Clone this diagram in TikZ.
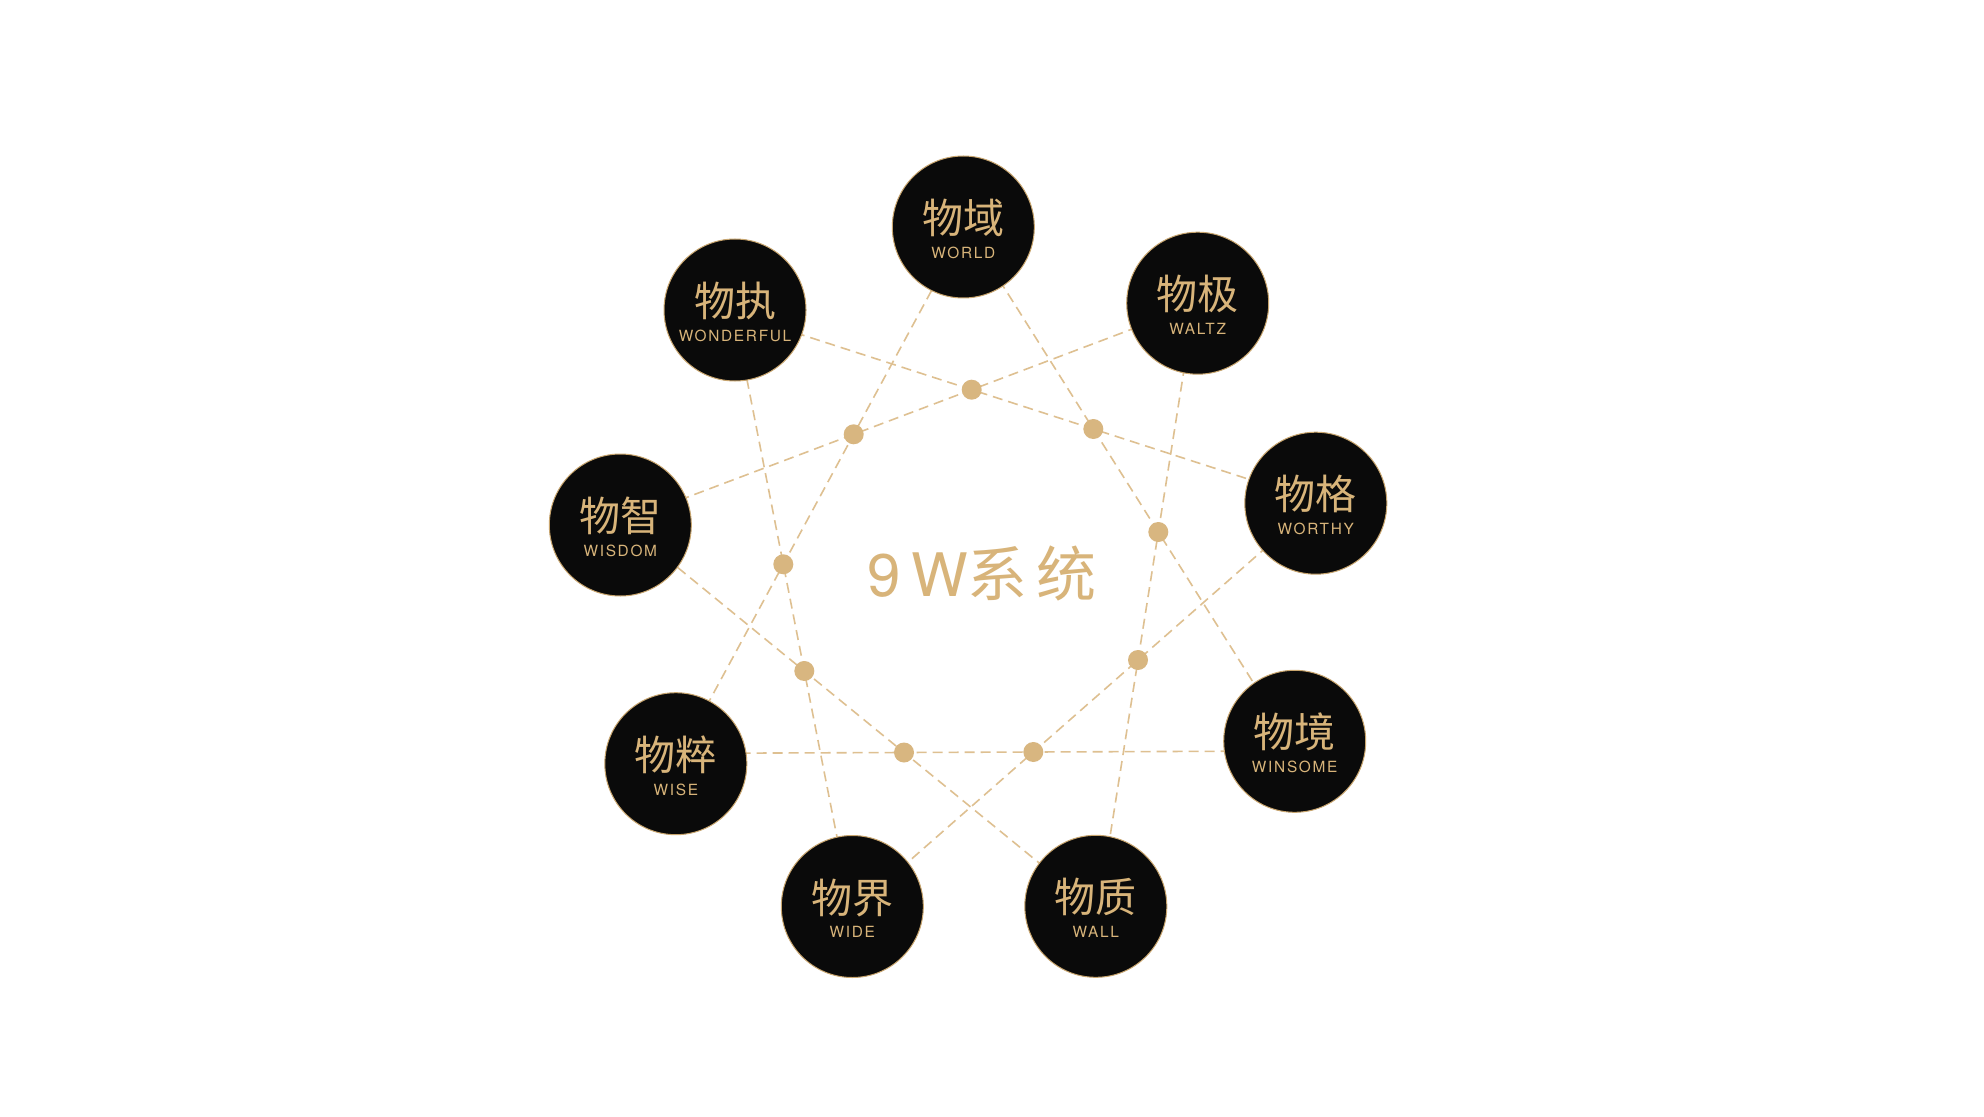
\documentclass[tikz,border=0pt]{standalone}
\usepackage{fontspec}
\usetikzlibrary{backgrounds,calc}
\pgfdeclarelayer{bottom}
\pgfsetlayers{bottom,background,main}
\newfontfamily\cjkf{Noto Sans CJK SC}
\newfontfamily\cjkls[LetterSpace=14]{Noto Sans CJK SC}
\newfontfamily\latf[LetterSpace=11]{TeX Gyre Heros}
\newfontfamily\latls[LetterSpace=17]{TeX Gyre Heros}
\definecolor{goldtxt}{HTML}{D8B47A}
\definecolor{goldline}{HTML}{DEC091}
\definecolor{golddot}{HTML}{D8B680}
\definecolor{bubfill}{HTML}{0A0A0A}
\definecolor{bubedge}{HTML}{C8A56E}
\tikzset{
  bubble/.style={circle, fill=bubfill, draw=bubedge, line width=0.5pt, minimum size=71pt, inner sep=0pt},
  cjklab/.style={text=goldtxt, font=\cjkf\fontsize{20.5}{24}\selectfont, inner sep=0pt, anchor=base},
  englab/.style={text=goldtxt, font=\latf\fontsize{7.7}{9}\selectfont, inner sep=0pt, anchor=base},
  titlelab/.style={text=goldtxt, font=\fontsize{30}{34}\selectfont, inner sep=0pt, anchor=base},
  conn/.style={draw=goldline, line width=0.8pt, dash pattern=on 5pt off 3pt},
  knot/.style={fill=golddot}
}
\newcommand\mkbubble[5]{%
  \node[bubble] (#1) at (#2,#3) {};
  \node[cjklab] (#1c) at (#2,#3+6.6) {#4};
  \node[englab] (#1e) at (#2,#3+31.4) {#5};
}
\begin{document}
\begin{tikzpicture}[x=0.5pt,y=-0.5pt]
\begin{pgfonlayer}{bottom}
\fill[white] (0,0) rectangle (1984,1117);
\end{pgfonlayer}
\useasboundingbox (0,0) rectangle (1984,1117);
\mkbubble{n0}{963.3}{227}{物域}{WORLD}
\mkbubble{n1}{1197.7}{303.2}{物极}{WALTZ}
\mkbubble{n2}{1315.8}{503.2}{物格}{WORTHY}
\mkbubble{n3}{1294.7}{741.3}{物境}{WINSOME}
\mkbubble{n4}{1095.8}{906.3}{物质}{WALL}
\mkbubble{n5}{852.3}{906.5}{物界}{WIDE}
\mkbubble{n6}{675.8}{763.7}{物粹}{WISE}
\mkbubble{n7}{620.3}{525}{物智}{WISDOM}
\mkbubble{n8}{735}{310}{物执}{WONDERFUL}
\node[titlelab] (title) at (982,596) {{\latls 9W}{\cjkls 系统}};
% crossing points of the star lines
\coordinate (k0) at (1158.3,532);
\coordinate (k1) at (1138,660);
\coordinate (k2) at (1033.3,752);
\coordinate (k3) at (904,752.5);
\coordinate (k4) at (804.3,671);
\coordinate (k5) at (783.3,564.3);
\coordinate (k6) at (853.7,434.3);
\coordinate (k7) at (971.7,389.7);
\coordinate (k8) at (1093.3,429);
\begin{pgfonlayer}{background}
\draw[conn] ($(k8)!(n0)!(k0)$) -- ($(k8)!(n3)!(k0)$);
\draw[conn] ($(k0)!(n1)!(k1)$) -- ($(k0)!(n4)!(k1)$);
\draw[conn] ($(k1)!(n2)!(k2)$) -- ($(k1)!(n5)!(k2)$);
\draw[conn] ($(k2)!(n3)!(k3)$) -- ($(k2)!(n6)!(k3)$);
\draw[conn] ($(k3)!(n4)!(k4)$) -- ($(k3)!(n7)!(k4)$);
\draw[conn] ($(k4)!(n5)!(k5)$) -- ($(k4)!(n8)!(k5)$);
\draw[conn] ($(k5)!(n6)!(k6)$) -- ($(k5)!(n0)!(k6)$);
\draw[conn] ($(k6)!(n7)!(k7)$) -- ($(k6)!(n1)!(k7)$);
\draw[conn] ($(k7)!(n8)!(k8)$) -- ($(k7)!(n2)!(k8)$);
\end{pgfonlayer}
\foreach \i in {0,...,8} { \fill[knot] (k\i) circle[radius=5pt]; }
\end{tikzpicture}
\end{document}
